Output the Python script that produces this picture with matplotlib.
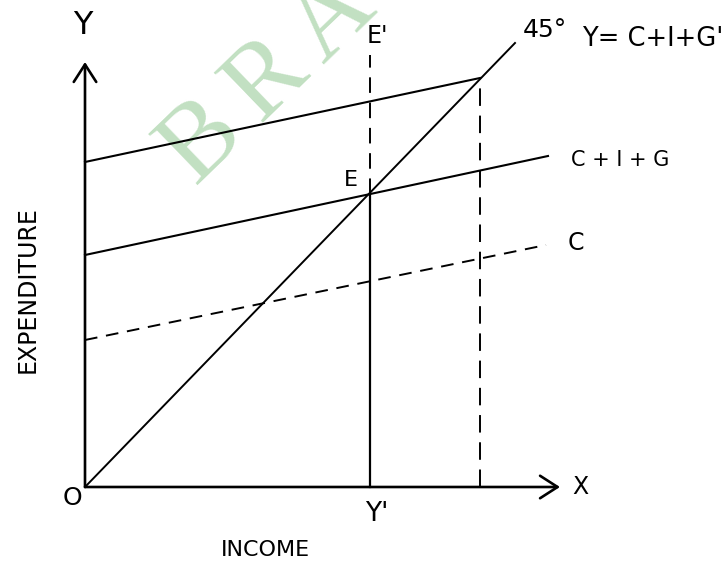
import matplotlib
matplotlib.use("Agg")
import matplotlib.pyplot as plt

# Data (pixel-like units, origin at O)
line45_x = [0, 430]
line45_y = [0, 444]
cig_prime_x = [0, 395]
cig_prime_y = [325, 409]
cig_x = [0, 463]
cig_y = [232, 331]
c_x = [0, 461]
c_y = [147, 242]
eq_E = (285, 293)
y_prime = 285
y_second = 395
y_second_top = 409
e_prime_top = 432
x_axis_end = 475
y_axis_end = 425

watermark_letters = ["B", "R", "A", "C"]

fig = plt.figure(figsize=(7.26, 5.66), dpi=100)
ax = fig.add_axes([0, 0, 1, 1])
ax.set_xlim(-85, 641)
ax.set_ylim(-79, 487)
ax.axis("off")

# watermark (letters placed along a 44 degree diagonal)
for i, ch in enumerate(watermark_letters):
    ax.text(118 + 65 * i, 346 + 61 * i, ch, fontsize=77, family="Liberation Serif",
            color="#c2e0c2", rotation=44, rotation_mode="anchor",
            ha="center", va="center", zorder=0, clip_on=True)

k = "black"
# axes with arrows
ax.annotate("", xy=(0, y_axis_end), xytext=(0, 0),
            arrowprops=dict(arrowstyle="->,head_length=0.7,head_width=0.45",
                            lw=1.9, color=k, mutation_scale=18, shrinkA=0, shrinkB=0))
ax.annotate("", xy=(x_axis_end, 0), xytext=(0, 0),
            arrowprops=dict(arrowstyle="->,head_length=0.7,head_width=0.45",
                            lw=1.9, color=k, mutation_scale=18, shrinkA=0, shrinkB=0))

# lines
ax.plot(line45_x, line45_y, color=k, lw=1.4)
ax.plot(cig_prime_x, cig_prime_y, color=k, lw=1.5)
ax.plot(cig_x, cig_y, color=k, lw=1.5)
ax.plot(c_x, c_y, color=k, lw=1.4, dashes=(6.5, 4.5))

# verticals
ax.plot([y_prime, y_prime], [0, eq_E[1]], color=k, lw=1.6)
ax.plot([y_prime, y_prime], [eq_E[1], e_prime_top], color=k, lw=1.4, dashes=(8, 5))
ax.plot([y_second, y_second], [0, y_second_top], color=k, lw=1.4, dashes=(9, 5))

# labels
ax.text(-2, 462, "Y", fontsize=23, ha="center", va="center")
ax.text(-13, -11, "O", fontsize=18, ha="center", va="center")
ax.text(495, 0, "X", fontsize=17, ha="center", va="center")
ax.text(292, -27, "Y'", fontsize=19, ha="center", va="center")
ax.text(180, -63, "INCOME", fontsize=16, ha="center", va="center")
ax.text(-57, 197, "EXPENDITURE", fontsize=17, ha="center", va="center", rotation=90)
ax.text(292, 451, "E'", fontsize=17, ha="center", va="center")
ax.text(266, 307, "E", fontsize=16, ha="center", va="center")
ax.text(460, 457, "45°", fontsize=18, ha="center", va="center")
ax.text(497, 448, "Y= C+I+G'", fontsize=18.5, ha="left", va="center")
ax.text(486, 327, "C + I + G", fontsize=15, ha="left", va="center")
ax.text(483, 244, "C", fontsize=17, ha="left", va="center")

fig.savefig("out.png", dpi=100)
